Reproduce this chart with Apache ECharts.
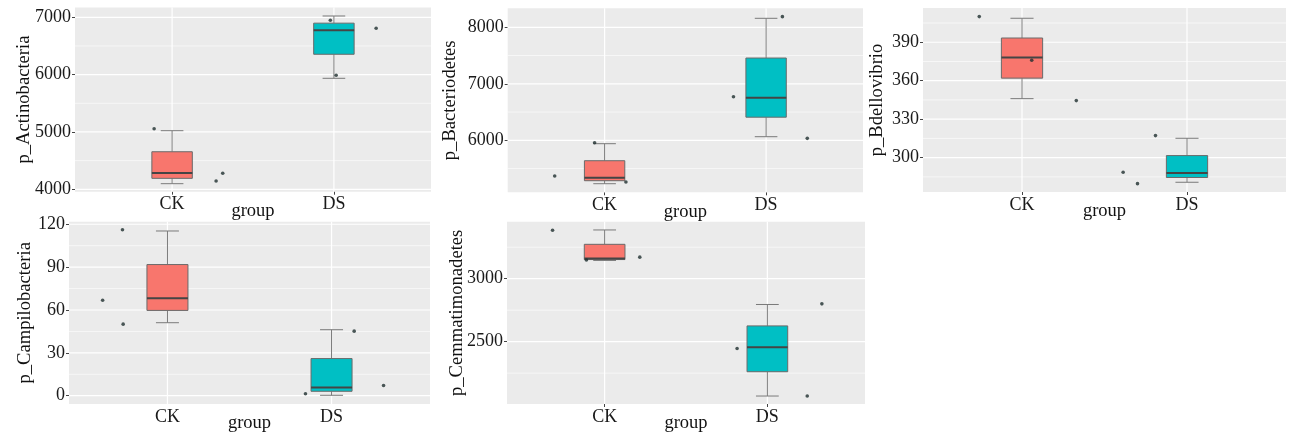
<!DOCTYPE html>
<html>
<head>
<meta charset="utf-8">
<script src="https://cdn.jsdelivr.net/npm/echarts@6/dist/echarts.min.js"></script>
<style>html,body{margin:0;padding:0;background:#fff;}#c{width:1289px;height:434px;}</style>
</head>
<body>
<div id="c"></div>
<script>
// ---------- data ----------
const categories = ['CK', 'DS'];
const yTitles = ['p_Actinobacteria', 'p_Bacteriodetes', 'p_Bdellovibrio', 'p_Campilobacteria', 'p_Cemmatimonadetes'];
const xTitle = 'group';

// box statistics: [min, Q1, median, Q3, max]
const actinoCK = [4098, 4191, 4284, 4655, 5022];
const actinoDS = [5936, 6355, 6773, 6898, 7023];
const bacterCK = [5232, 5285, 5338, 5639, 5940];
const bacterDS = [6064, 6409, 6754, 7456, 8159];
const bdelloCK = [346.0, 362.0, 378.0, 393.3, 408.7];
const bdelloDS = [280.8, 284.5, 288.1, 301.6, 315.1];
const campiCK = [51.1, 59.7, 68.2, 91.8, 115.3];
const campiDS = [0.3, 3.1, 5.8, 26.0, 46.2];
const cemmaCK = [3145, 3152, 3160, 3273, 3387];
const cemmaDS = [2068, 2261, 2455, 2625, 2795];

// jittered sample points: [x (group position), value]
const actinoPts = [[0.889, 5057], [1.272, 4145], [1.313, 4279], [1.978, 6948], [2.014, 5988], [2.261, 6808]];
const bacterPts = [[0.691, 5368], [0.938, 5958], [1.132, 5262], [1.798, 6772], [2.101, 8188], [2.255, 6035]];
const bdelloPts = [[0.741, 410.0], [1.059, 376.0], [1.329, 344.5], [1.613, 288.6], [1.700, 279.7], [1.809, 317.2]];
const campiPts = [[0.605, 66.8], [0.726, 116.2], [0.730, 50.1], [1.841, 1.4], [2.138, 45.2], [2.317, 7.2]];
const cemmaPts = [[0.680, 3385], [0.888, 3148], [1.216, 3171], [1.814, 2445], [2.245, 2068], [2.335, 2800]];

// axis ranges and tick labels
const actinoRange = [3958, 7171];
const bacterRange = [5080, 8336];
const bdelloRange = [273.2, 416.7];
const campiRange = [-5.8, 121.8];
const cemmaRange = [2004.7, 3452.6];

const actinoTicks = [4000, 5000, 6000, 7000];
const bacterTicks = [6000, 7000, 8000];
const bdelloTicks = [300, 330, 360, 390];
const campiTicks = [0, 30, 60, 90, 120];
const cemmaTicks = [2500, 3000];

const actinoMinor = [4500, 5500, 6500];
const bacterMinor = [5500, 6500, 7500];
const bdelloMinor = [285, 315, 345, 375, 405];
const campiMinor = [15, 45, 75, 105];
const cemmaMinor = [2250, 2750, 3250];

// ---------- layout / style ----------
const layout = [
  {left: 75, top: 7.5, width: 356, height: 184.2, nameGap: 41},
  {left: 507.7, top: 8.3, width: 355.3, height: 184, nameGap: 48},
  {left: 923, top: 8, width: 363, height: 184, nameGap: 36},
  {left: 69, top: 221.7, width: 361, height: 183.3, nameGap: 34},
  {left: 507, top: 221.7, width: 358, height: 183.3, nameGap: 40}
];
const FONT = '"Liberation Serif", "Times New Roman", serif';
const CK_COLOR = '#F8766D';
const DS_COLOR = '#00BFC4';
const BOX_W = 0.25;
const CAP_W = 0.14;

const panels = [
  {title: yTitles[0], ck: actinoCK, ds: actinoDS, pts: actinoPts, range: actinoRange, ticks: actinoTicks, minor: actinoMinor},
  {title: yTitles[1], ck: bacterCK, ds: bacterDS, pts: bacterPts, range: bacterRange, ticks: bacterTicks, minor: bacterMinor},
  {title: yTitles[2], ck: bdelloCK, ds: bdelloDS, pts: bdelloPts, range: bdelloRange, ticks: bdelloTicks, minor: bdelloMinor},
  {title: yTitles[3], ck: campiCK, ds: campiDS, pts: campiPts, range: campiRange, ticks: campiTicks, minor: campiMinor},
  {title: yTitles[4], ck: cemmaCK, ds: cemmaDS, pts: cemmaPts, range: cemmaRange, ticks: cemmaTicks, minor: cemmaMinor}
];

function renderGridLine(params, api) {
  const cs = params.coordSys;
  const orient = api.value(0);
  const v = api.value(1);
  const major = api.value(2);
  const w = major ? 1.2 : 0.6;
  const style = {stroke: '#FFFFFF', lineWidth: w};
  if (orient === 0) {
    const y = api.coord([1, v])[1];
    return {type: 'line', shape: {x1: cs.x, y1: y, x2: cs.x + cs.width, y2: y}, style: style, silent: true};
  }
  const x = api.coord([v, 0])[0];
  return {type: 'line', shape: {x1: x, y1: cs.y, x2: x, y2: cs.y + cs.height}, style: style, silent: true};
}

function renderBox(params, api) {
  const cat = api.value(0);
  const vals = [1, 2, 3, 4, 5].map(function (d) { return api.coord([cat, api.value(d)])[1]; });
  const cx = api.coord([cat, api.value(3)])[0];
  const hb = api.size([BOX_W, 0])[0] / 2;
  const hc = api.size([CAP_W, 0])[0] / 2;
  const yMin = vals[0], yQ1 = vals[1], yMd = vals[2], yQ3 = vals[3], yMax = vals[4];
  const fill = cat === 1 ? CK_COLOR : DS_COLOR;
  const wStyle = {stroke: '#7a7a7a', lineWidth: 1};
  return {
    type: 'group',
    children: [
      {type: 'line', shape: {x1: cx, y1: yMin, x2: cx, y2: yQ1}, style: wStyle},
      {type: 'line', shape: {x1: cx, y1: yQ3, x2: cx, y2: yMax}, style: wStyle},
      {type: 'line', shape: {x1: cx - hc, y1: yMin, x2: cx + hc, y2: yMin}, style: wStyle},
      {type: 'line', shape: {x1: cx - hc, y1: yMax, x2: cx + hc, y2: yMax}, style: wStyle},
      {type: 'rect', shape: {x: cx - hb, y: yQ3, width: 2 * hb, height: yQ1 - yQ3}, style: {fill: fill, stroke: '#6a6a6a', lineWidth: 1}},
      {type: 'line', shape: {x1: cx - hb, y1: yMd, x2: cx + hb, y2: yMd}, style: {stroke: '#454545', lineWidth: 2}}
    ]
  };
}

const grids = [], xAxes = [], yAxes = [], series = [];
panels.forEach(function (p, i) {
  const L = layout[i];
  grids.push({left: L.left, top: L.top, width: L.width, height: L.height, show: true,
    backgroundColor: '#EBEBEB', borderWidth: 0, containLabel: false});
  xAxes.push({
    gridIndex: i, type: 'value', min: 0.4, max: 2.6,
    axisLine: {show: false}, splitLine: {show: false},
    axisTick: {show: true, customValues: [1, 2], length: 3, lineStyle: {color: '#444', width: 1}},
    axisLabel: {customValues: [1, 2], margin: 4, fontFamily: FONT, fontSize: 18, color: '#1a1a1a',
      formatter: function (v) { return categories[Math.round(v) - 1]; }},
    name: xTitle, nameLocation: 'middle', nameGap: 10, nameMoveOverlap: false,
    nameTextStyle: {fontFamily: FONT, fontSize: 18.5, color: '#111'}
  });
  yAxes.push({
    gridIndex: i, type: 'value', min: p.range[0], max: p.range[1],
    axisLine: {show: false}, splitLine: {show: false},
    axisTick: {show: true, customValues: p.ticks, length: 3, lineStyle: {color: '#444', width: 1}},
    axisLabel: {customValues: p.ticks, margin: 4, fontFamily: FONT, fontSize: 18, color: '#1a1a1a',
      formatter: function (v) { return String(v); }},
    name: p.title, nameLocation: 'middle', nameGap: L.nameGap, nameMoveOverlap: false,
    nameTextStyle: {fontFamily: FONT, fontSize: 18.6, color: '#111'}
  });
  const gl = [];
  p.minor.forEach(function (v) { gl.push([0, v, 0]); });
  p.ticks.forEach(function (v) { gl.push([0, v, 1]); });
  [1, 2].forEach(function (v) { gl.push([1, v, 1]); });
  series.push({type: 'custom', xAxisIndex: i, yAxisIndex: i, z: 1, silent: true,
    renderItem: renderGridLine, data: gl, encode: {x: -1, y: -1}, clip: false});
  series.push({type: 'custom', xAxisIndex: i, yAxisIndex: i, z: 2, silent: true,
    renderItem: renderBox, encode: {x: 0, y: [1, 2, 3, 4, 5]},
    data: [[1].concat(p.ck), [2].concat(p.ds)]});
  series.push({type: 'scatter', xAxisIndex: i, yAxisIndex: i, z: 3, silent: true,
    symbolSize: 3.6, itemStyle: {color: '#1f2f2f'}, data: p.pts});
});

const chart = echarts.init(document.getElementById('c'), null, {renderer: 'canvas'});
chart.setOption({animation: false, grid: grids, xAxis: xAxes, yAxis: yAxes, series: series});
</script>
</body>
</html>
